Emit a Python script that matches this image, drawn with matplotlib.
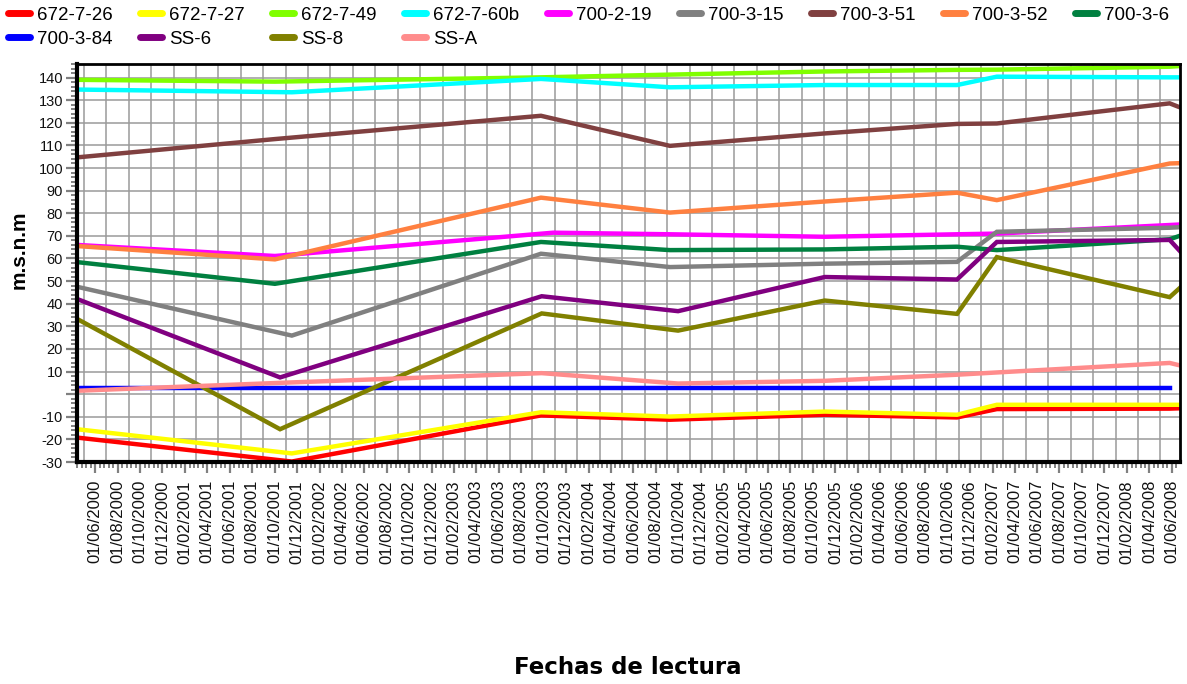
import numpy as np
import matplotlib.pyplot as plt
import matplotlib.dates as mdates
from matplotlib.lines import Line2D
from matplotlib.ticker import FuncFormatter, MultipleLocator, FixedLocator

plt.rcParams['font.family'] = ['Liberation Sans', 'DejaVu Sans']

# fechas de cada campaña (varían un poco según el piezómetro)
fechas_a = ['2000-04-13', '2001-10-02', '2003-09-24', '2004-09-08', '2005-11-02',
            '2006-10-27', '2007-02-12', '2008-05-26', '2008-07-01']
fechas_b = ['2000-04-13', '2001-10-16', '2003-09-26', '2004-09-30', '2005-11-02',
            '2006-10-27', '2007-02-12', '2008-05-26', '2008-07-01']
fechas_c = ['2000-04-13', '2001-11-17', '2003-09-24', '2004-09-08', '2005-11-02',
            '2006-10-27', '2007-02-12', '2008-05-26', '2008-07-01']
fechas_m = ['2000-04-13', '2001-10-02', '2003-10-27', '2004-09-08', '2005-11-02',
            '2006-10-27', '2007-02-12', '2008-05-26', '2008-07-01']
fechas_84 = fechas_a[:-1]

# niveles (m.s.n.m)
p672_7_26 = [-19.2, -29.8, -9.4, -11.3, -9.1, -10.3, -6.6, -6.4, -6.2]
p672_7_27 = [-15.5, -26.2, -8.0, -9.9, -7.7, -9.1, -4.7, -4.7, -4.7]
p672_7_49 = [139.0, 138.2, 140.1, 141.3, 142.7, 143.4, 143.5, 144.8, 145.2]
p672_7_60b = [134.7, 133.5, 139.4, 135.7, 136.7, 136.7, 140.4, 140.1, 140.1]
p700_2_19 = [66.0, 61.1, 71.4, 70.7, 69.6, 70.7, 71.0, 74.8, 75.1]
p700_3_15 = [47.5, 25.9, 62.1, 56.2, 57.7, 58.5, 71.8, 73.6, 73.9]
p700_3_51 = [104.7, 112.8, 123.1, 109.8, 115.3, 119.5, 119.7, 128.6, 126.3]
p700_3_52 = [65.5, 59.6, 86.9, 80.3, 85.2, 89.1, 85.8, 102.0, 102.2]
p700_3_6 = [58.4, 48.8, 67.3, 63.7, 64.0, 65.2, 63.7, 68.5, 70.5]
p700_3_84 = [2.9, 2.9, 2.9, 2.9, 2.9, 2.9, 2.9, 2.9]
pSS_6 = [42.1, 7.4, 43.3, 36.7, 51.8, 50.7, 67.3, 68.2, 61.8]
pSS_8 = [33.3, -15.5, 35.7, 28.1, 41.4, 35.5, 60.6, 42.9, 48.2]
pSS_A = [1.5, 5.0, 9.3, 4.7, 5.9, 8.6, 9.6, 13.8, 12.4]

series = [
    ('672-7-26', fechas_c, p672_7_26, '#FF0000'),
    ('672-7-27', fechas_c, p672_7_27, '#FFFF00'),
    ('672-7-49', fechas_a, p672_7_49, '#80FF00'),
    ('672-7-60b', fechas_c, p672_7_60b, '#00FFFF'),
    ('700-2-19', fechas_m, p700_2_19, '#FF00FF'),
    ('700-3-15', fechas_c, p700_3_15, '#808080'),
    ('700-3-51', fechas_a, p700_3_51, '#804040'),
    ('700-3-52', fechas_a, p700_3_52, '#FF8040'),
    ('700-3-6', fechas_a, p700_3_6, '#008040'),
    ('700-3-84', fechas_84, p700_3_84, '#0000FF'),
    ('SS-6', fechas_b, pSS_6, '#800080'),
    ('SS-8', fechas_b, pSS_8, '#808000'),
    ('SS-A', fechas_b, pSS_A, '#FF8C8C'),
]

fig = plt.figure(figsize=(11.87, 6.84), dpi=100)
ax = fig.add_axes([77 / 1187, 1 - 462 / 684, 1103 / 1187, 398 / 684])

for nombre, f, v, c in series:
    ax.plot(np.array(f, dtype='datetime64[D]'), v, color=c, lw=3.2,
            solid_joinstyle='miter', zorder=3, label=nombre)

x0 = np.datetime64('2000-04-13')
x1 = np.datetime64('2008-06-23')
ax.set_xlim(x0, x1)
ax.set_ylim(-30, 146)

# eje y
ax.yaxis.set_major_locator(MultipleLocator(10))
ax.yaxis.set_minor_locator(MultipleLocator(2))
ax.yaxis.set_major_formatter(FuncFormatter(lambda v, p: '' if abs(v) < 1e-9 else '%d' % v))
ax.yaxis.grid(True, color='#9a9a9a', lw=1.1, zorder=1)

# eje x: etiquetas cada 2 meses, 4 marcas menores entre ellas
ax.xaxis.set_major_locator(mdates.MonthLocator(bymonth=[2, 4, 6, 8, 10, 12]))
ax.xaxis.set_major_formatter(mdates.DateFormatter('%d/%m/%Y'))
mayores = mdates.date2num(np.arange('2000-02', '2008-10', 2, dtype='datetime64[M]').astype('datetime64[D]'))
menores = np.concatenate([np.linspace(a, b, 6)[1:-1] for a, b in zip(mayores[:-1], mayores[1:])])
ax.xaxis.set_minor_locator(FixedLocator(menores))
for m in np.arange('2000-05', '2008-08', 2, dtype='datetime64[M]'):
    ax.axvline(m.astype('datetime64[D]'), color='#9a9a9a', lw=1.1, zorder=1)

ax.tick_params(axis='both', which='major', direction='out', length=8, width=1.6,
               color='#808080', labelcolor='#111111', pad=2)
ax.tick_params(axis='both', which='minor', direction='out', length=4, width=1.4,
               color='#808080')
ax.tick_params(axis='y', labelsize=10.5)
ax.tick_params(axis='x', labelsize=12, labelrotation=90, pad=5)

for lado, w in [('left', 3), ('bottom', 3), ('top', 2), ('right', 2)]:
    ax.spines[lado].set_color('black')
    ax.spines[lado].set_linewidth(w)
    ax.spines[lado].set_zorder(5)

fig.text(19 / 1187, 1 - 250 / 684, 'm.s.n.m', rotation=90, fontsize=15,
         fontweight='bold', ha='center', va='center')
fig.text(628 / 1187, 1 - 667 / 684, 'Fechas de lectura', fontsize=16.5,
         fontweight='bold', family='DejaVu Sans', ha='center', va='center')

# leyenda en dos filas, ordenada por filas
handles = [Line2D([], [], color=c, lw=5, solid_capstyle='round') for _, _, _, c in series]
labels = [s[0] for s in series]
orden = [0, 9, 1, 10, 2, 11, 3, 12, 4, 5, 6, 7, 8]
fig.legend([handles[i] for i in orden], [labels[i] for i in orden],
           loc='upper left', bbox_to_anchor=(8 / 1187, 0.990), ncol=9, frameon=False,
           fontsize=13.5, handlelength=1.17, handletextpad=0.37, columnspacing=1.47,
           labelspacing=0.36, borderpad=0, borderaxespad=0)

fig.savefig('out.png', dpi=100)
